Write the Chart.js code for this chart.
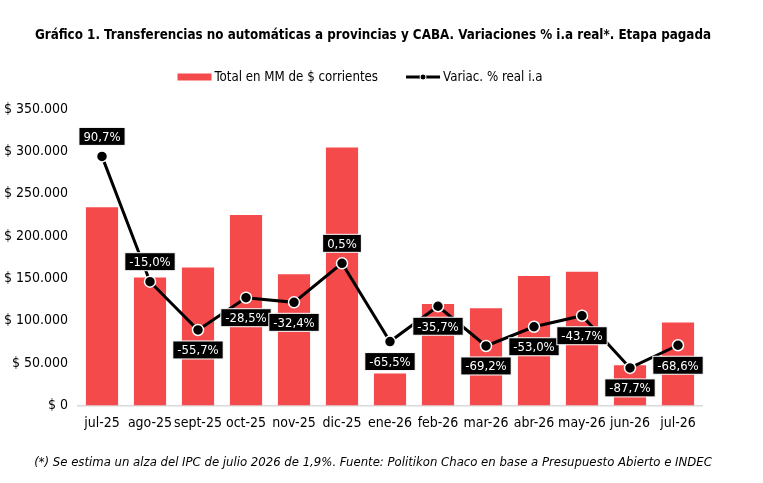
<!DOCTYPE html>
<html>
<head>
<meta charset="utf-8">
<script src="https://cdn.jsdelivr.net/npm/chart.js@4.4.1/dist/chart.umd.min.js"></script>
<style>
  html, body { margin: 0; padding: 0; background: #fff; }
  #wrap { width: 763px; height: 483px; }
</style>
</head>
<body>
<div id="wrap"><canvas id="graph"></canvas></div>
<script>
// datos
const months = ['jul-25', 'ago-25', 'sept-25', 'oct-25', 'nov-25', 'dic-25', 'ene-26', 'feb-26', 'mar-26', 'abr-26', 'may-26', 'jun-26', 'jul-26'];
const totals = [234000, 151000, 163000, 225000, 155000, 304500, 38000, 120000, 115000, 153000, 158000, 47500, 98000];
const variac = [90.7, -15.0, -55.7, -28.5, -32.4, 0.5, -65.5, -35.7, -69.2, -53.0, -43.7, -87.7, -68.6];
const yTicks = [0, 50000, 100000, 150000, 200000, 250000, 300000, 350000];

// donde va la etiqueta: -1 arriba, 1 abajo
const labelSide = [-1, -1, 1, 1, 1, -1, 1, 1, 1, 1, 1, 1, 1];

const FONT = '"Liberation Sans Narrow", "DejaVu Sans Condensed", "Roboto Condensed", Roboto, sans-serif';
const RED = '#F54A4B';

function money(v) {
    return '$ ' + String(v).replace(/\B(?=(\d{3})+(?!\d))/g, '.');
}

// cajitas negras con el porcentaje
const pctLabels = {
    id: 'pctLabels',
    afterDatasetsDraw(chart) {
        const ctx = chart.ctx;
        const meta = chart.getDatasetMeta(0);
        ctx.save();
        ctx.font = '13px ' + FONT;
        ctx.textAlign = 'center';
        ctx.textBaseline = 'middle';
        meta.data.forEach(function (pt, i) {
            const txt = variac[i].toFixed(1).replace('.', ',') + '%';
            const w = ctx.measureText(txt).width + 9;
            const h = 18;
            const cx = pt.x;
            const cy = pt.y + labelSide[i] * 20;
            ctx.fillStyle = '#000';
            ctx.strokeStyle = '#fff';
            ctx.lineWidth = 1;
            ctx.fillRect(cx - w / 2, cy - h / 2, w, h);
            ctx.strokeRect(cx - w / 2, cy - h / 2, w, h);
            ctx.fillStyle = '#fff';
            ctx.fillText(txt, cx, cy + 1);
        });
        ctx.restore();
    }
};

// leyenda a mano, centrada
const customLegend = {
    id: 'customLegend',
    afterDraw(chart) {
        const ctx = chart.ctx;
        const ds = chart.data.datasets;
        const t1 = ds[1].label;
        const t2 = ds[0].label;
        ctx.save();
        ctx.font = '13.2px ' + FONT;
        ctx.textBaseline = 'middle';
        ctx.textAlign = 'left';
        const box = 34, gapTxt = 3, gapItem = 28;
        const w1 = ctx.measureText(t1).width;
        const w2 = ctx.measureText(t2).width;
        const total = box + gapTxt + w1 + gapItem + box + gapTxt + w2;
        let x = 360 - total / 2;
        const y = 77;
        ctx.fillStyle = RED;
        ctx.fillRect(x, y - 3.5, box, 7);
        x += box + gapTxt;
        ctx.fillStyle = '#000';
        ctx.fillText(t1, x, y + 1);
        x += w1 + gapItem;
        ctx.strokeStyle = '#000';
        ctx.lineWidth = 3;
        ctx.beginPath();
        ctx.moveTo(x, y);
        ctx.lineTo(x + box, y);
        ctx.stroke();
        ctx.beginPath();
        ctx.arc(x + box / 2, y, 3, 0, Math.PI * 2);
        ctx.fillStyle = '#000';
        ctx.fill();
        ctx.strokeStyle = '#fff';
        ctx.lineWidth = 1;
        ctx.stroke();
        x += box + gapTxt;
        ctx.fillStyle = '#000';
        ctx.fillText(t2, x, y + 1);
        ctx.restore();
    }
};

const data = {
    labels: months,
    datasets: [
        {
            type: 'line',
            label: 'Variac. % real i.a',
            data: variac,
            yAxisID: 'y2',
            borderColor: '#000',
            backgroundColor: '#000',
            borderWidth: 3,
            pointRadius: 5.5,
            pointBackgroundColor: '#000',
            pointBorderColor: '#fff',
            pointBorderWidth: 1.5,
            tension: 0,
            order: 0
        },
        {
            type: 'bar',
            label: 'Total en MM de $ corrientes',
            data: totals,
            yAxisID: 'y',
            backgroundColor: RED,
            categoryPercentage: 0.67,
            barPercentage: 1,
            order: 1
        }
    ]
};

const config = {
    type: 'bar',
    data: data,
    options: {
        responsive: true,
        maintainAspectRatio: false,
        animation: false,
        layout: { padding: { left: 0, right: 17, top: 21, bottom: 13 } },
        scales: {
            x: {
                grid: { display: false, drawTicks: false },
                border: { color: '#d9d9d9', width: 1.5 },
                ticks: { color: '#000', font: { family: FONT, size: 14 }, padding: 9, maxRotation: 0, autoSkip: false }
            },
            y: {
                min: 0,
                max: 350000,
                afterBuildTicks(scale) {
                    scale.ticks = yTicks.map(function (v) { return { value: v }; });
                },
                afterFit(scale) { scale.width = 78; },
                grid: { display: false, drawTicks: false },
                border: { display: false },
                ticks: {
                    color: '#000',
                    font: { family: FONT, size: 14 },
                    padding: 10,
                    callback: function (v) { return money(v); }
                }
            },
            y2: {
                position: 'right',
                min: -119.5,
                max: 130.7,
                afterFit(scale) { scale.width = 44; },
                grid: { display: false, drawTicks: false },
                border: { display: false },
                ticks: { display: false }
            }
        },
        plugins: {
            legend: { display: false },
            title: {
                display: true,
                text: 'Gráfico 1. Transferencias no automáticas a provincias y CABA. Variaciones % i.a real*. Etapa pagada',
                color: '#000',
                font: { family: FONT, size: 13.3, weight: 'bold' },
                padding: { top: 7, bottom: 65 }
            },
            subtitle: {
                display: true,
                position: 'bottom',
                text: '(*) Se estima un alza del IPC de julio 2026 de 1,9%. Fuente: Politikon Chaco en base a Presupuesto Abierto e INDEC',
                color: '#000',
                font: { family: FONT, size: 13, style: 'italic' },
                padding: { top: 14, bottom: 0 }
            },
            tooltip: { enabled: false }
        }
    },
    plugins: [pctLabels, customLegend]
};

let ctx = document.getElementById('graph').getContext('2d');
let graph = new Chart(ctx, config);
</script>
</body>
</html>
